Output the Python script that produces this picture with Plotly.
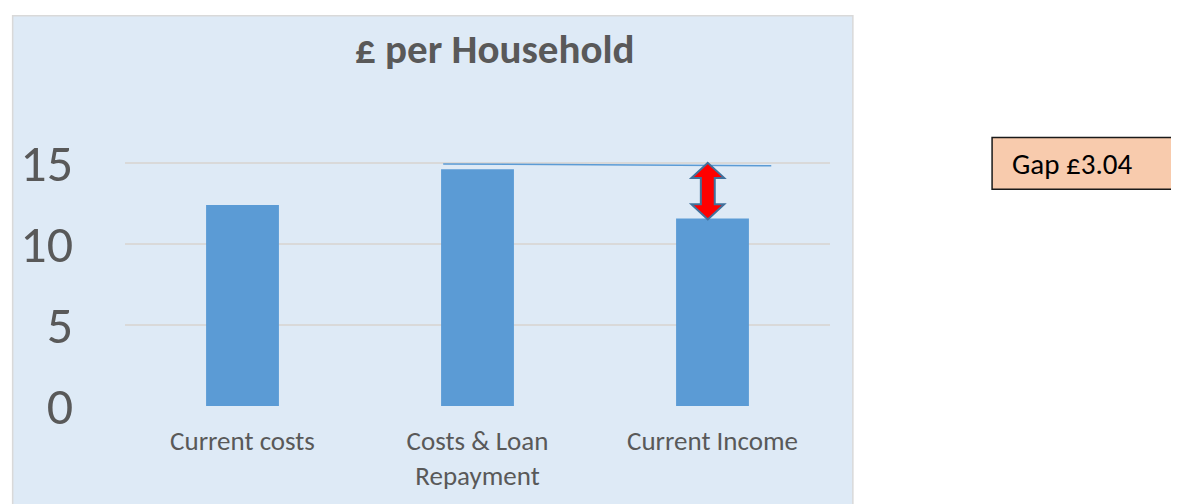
import plotly.graph_objects as go

categories = ["Current costs", "Costs & Loan<br>Repayment", "Current Income"]
values = [12.4, 14.6, 11.56]
gap_label = "Gap £3.04"
gap_line_y = [14.93, 14.82]
gap_line_x = [0.854, 2.25]
arrow_top = 15.0

OFF = 8  # page body margin
W, H = 1179 - OFF, 504 - OFF
ML, MR, MT, MB = 121 - OFF, 1179 - 830, 158 - OFF, 504 - 411
PW, PH = W - ML - MR, H - MT - MB
YMAX = 15.3


def px_x(p):
    return (p - OFF - ML) / PW


def px_y(p):
    return (H - MB - (p - OFF)) / PH


xs = PW / 3.0  # px per category unit
ys = PH / YMAX  # px per y unit
FONT = "Carlito, Liberation Sans, Arial"

fig = go.Figure()
fig.add_trace(go.Bar(x=categories, y=values, width=0.31,
                     marker=dict(color="#5B9BD5", line=dict(width=0)),
                     hoverinfo="skip"))

shapes = []
# panel background
shapes.append(dict(type="rect", xref="paper", yref="paper", layer="below",
                   x0=px_x(8), x1=px_x(853), y0=px_y(520), y1=px_y(13),
                   fillcolor="#DEEAF6", line=dict(color="#D9D9D9", width=1.5)))
# gap line
shapes.append(dict(type="line", xref="x", yref="y", layer="above",
                   x0=gap_line_x[0], x1=gap_line_x[1], y0=gap_line_y[0], y1=gap_line_y[1],
                   line=dict(color="#5B9BD5", width=1.5)))
# double arrow
cx = 1.98
sw = 7 / xs
hw = 16.5 / xs
hh = 15.5 / ys
top = arrow_top
bot = values[2] - 0.05
pts = [(cx, top), (cx + hw, top - hh), (cx + sw, top - hh), (cx + sw, bot + hh),
       (cx + hw, bot + hh), (cx, bot), (cx - hw, bot + hh), (cx - sw, bot + hh),
       (cx - sw, top - hh), (cx - hw, top - hh)]
path = "M " + " L ".join(f"{x},{y}" for x, y in pts) + " Z"
shapes.append(dict(type="path", xref="x", yref="y", layer="above", path=path,
                   fillcolor="#FF0000", line=dict(color="#41719C", width=2)))
# gap textbox
shapes.append(dict(type="rect", xref="paper", yref="paper",
                   x0=px_x(993), x1=px_x(1177), y0=px_y(190), y1=px_y(137),
                   fillcolor="#F8CBAD", line=dict(color="#1A1A1A", width=1.5)))

annotations = [
    dict(text="<b>£ per Household</b>", xref="paper", yref="paper",
         x=px_x(493), y=px_y(47), xanchor="center", yanchor="middle",
         showarrow=False, font=dict(size=41, color="#595959", family=FONT)),
    dict(text=gap_label, xref="paper", yref="paper",
         x=px_x(1011), y=px_y(164), xanchor="left", yanchor="middle",
         showarrow=False, font=dict(size=29, color="#000000", family=FONT)),
]

fig.update_layout(
    width=W, height=H,
    margin=dict(l=ML, r=MR, t=MT, b=MB),
    paper_bgcolor="white", plot_bgcolor="rgba(0,0,0,0)",
    showlegend=False,
    shapes=shapes, annotations=annotations,
    font=dict(family=FONT, color="#595959"),
)
fig.update_xaxes(range=[-0.5, 2.5], showgrid=False, zeroline=False, showline=False,
                 ticks="", tickfont=dict(size=27, color="#595959"),
                 ticklabelstandoff=16, fixedrange=True)
fig.update_yaxes(range=[0, YMAX], tickvals=[0, 5, 10, 15], showgrid=True,
                 gridcolor="#D9D9D9", gridwidth=1.5, zeroline=False, showline=False,
                 ticks="", tickfont=dict(size=52, color="#595959"),
                 ticklabelstandoff=51, fixedrange=True)

fig.write_html("out.html")
